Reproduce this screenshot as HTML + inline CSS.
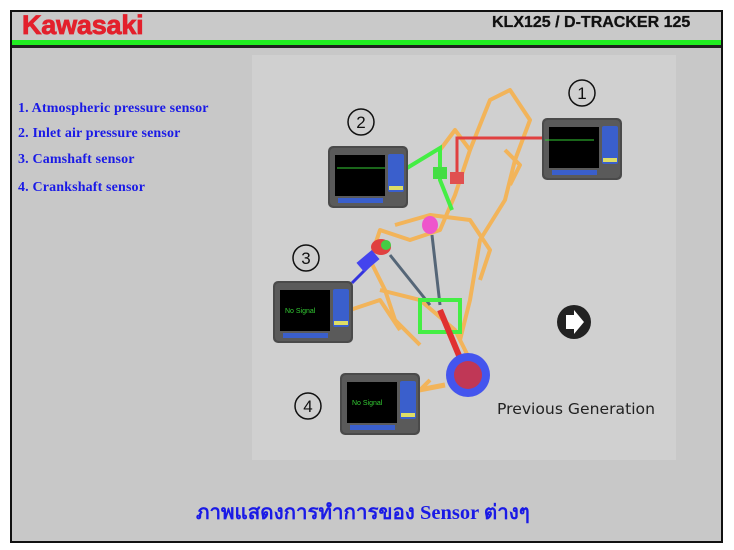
<!DOCTYPE html>
<html><head><meta charset="utf-8"><style>
html,body{margin:0;padding:0;background:#fff;}
body{width:734px;height:550px;position:relative;overflow:hidden;font-family:"Liberation Sans",sans-serif;}
.frame{position:absolute;left:10px;top:10px;width:709px;height:529px;border:2px solid #111;background:#c8c8c8;}
.hdr{position:absolute;left:12px;top:12px;width:709px;height:28px;background:#c9c9c9;}
.green{position:absolute;left:12px;top:40px;width:709px;height:5px;background:#22ee22;}
.dark{position:absolute;left:12px;top:45px;width:709px;height:3px;background:#222;}
.kaw{position:absolute;left:22px;top:10px;font-weight:bold;font-size:27px;color:#e3202c;letter-spacing:-0.2px;-webkit-text-stroke:0.8px #e3202c;}
.model{position:absolute;left:492px;top:14px;font-weight:bold;font-size:16px;color:#111;-webkit-text-stroke:0.3px #111;}
.panel{position:absolute;left:252px;top:55px;width:424px;height:405px;background:#d0d0d0;}
.list{position:absolute;left:18px;font-family:"Liberation Serif",serif;font-weight:bold;font-size:14px;color:#1a1ae6;letter-spacing:0.15px;}
.thai{position:absolute;left:196px;top:496px;font-family:"Liberation Serif","DejaVu Serif",serif;font-weight:bold;font-size:20.5px;color:#1a1ae6;white-space:nowrap;}
</style></head><body>
<div class="frame"></div>
<div class="hdr"></div>
<div class="green"></div>
<div class="dark"></div>
<div class="kaw">Kawasaki</div>
<div class="model">KLX125 / D-TRACKER 125</div>
<div class="panel"></div>
<div class="list" style="top:101px">1. Atmospheric pressure sensor</div>
<div class="list" style="top:126px">2. Inlet air pressure sensor</div>
<div class="list" style="top:152px">3. Camshaft sensor</div>
<div class="list" style="top:180px">4. Crankshaft sensor</div>
<div class="thai">ภาพแสดงการทำการของ Sensor ต่างๆ</div>

<svg style="position:absolute;left:0;top:0" width="734" height="550">
<defs>
<g id="mon">
<rect x="0" y="0" width="80" height="62" rx="5" fill="#4a4a4a"/>
<rect x="2" y="2" width="76" height="58" rx="4" fill="#5a5a5a"/>
<rect x="7" y="9" width="50" height="41" fill="#000"/>
<rect x="60" y="8" width="16" height="38" rx="2" fill="#3a5fcc"/>
<rect x="61" y="40" width="14" height="4" fill="#dddd66"/>
<rect x="10" y="52" width="45" height="5" fill="#3a5fcc"/>
</g>
</defs>
<g stroke="#f2b45a" stroke-width="4" fill="none" stroke-linejoin="round">
<path d="M440 150 L455 130 L470 150 L455 195 L440 230 L410 240 L380 230 L370 260 L385 290 L395 320 L420 345"/>
<path d="M470 150 L490 100 L510 90 L530 120 L515 160 L505 200 L480 240 L470 300 L460 340"/>
<path d="M395 225 L430 215 L470 220 L490 250 L480 280"/>
<path d="M380 290 L420 300 L455 330 L470 360"/>
<path d="M505 150 L520 165 L510 185"/>
<path d="M430 380 L420 390 L405 395"/>
<path d="M350 310 L380 300 L400 330"/>
</g>
<path d="M407 168 L440 148 L440 180 L452 210" stroke="#44ee44" stroke-width="4" fill="none"/>
<rect x="433" y="167" width="14" height="12" fill="#44dd44"/>
<path d="M542 138 L457 138 L457 175" stroke="#e04040" stroke-width="3" fill="none"/>
<rect x="450" y="172" width="14" height="12" fill="#e05050"/>
<ellipse cx="381" cy="247" rx="10" ry="8" fill="#e04040"/>
<circle cx="386" cy="245" r="5" fill="#44cc44"/>
<ellipse cx="430" cy="225" rx="8" ry="9" fill="#ee55cc"/>
<path d="M352 283 L375 260" stroke="#3333dd" stroke-width="3"/>
<rect x="358" y="255" width="20" height="12" transform="rotate(-40 368 261)" fill="#4444ee"/>
<path d="M390 255 L430 305 M432 235 L440 305" stroke="#556677" stroke-width="3"/>
<rect x="420" y="300" width="40" height="32" fill="none" stroke="#44ee44" stroke-width="4"/>
<path d="M440 310 L465 370" stroke="#e03030" stroke-width="6"/>
<circle cx="468" cy="375" r="22" fill="#4455ee"/>
<circle cx="468" cy="375" r="14" fill="#e03030" opacity="0.8"/>
<path d="M419 390 L445 385" stroke="#f2b45a" stroke-width="5"/>
<use href="#mon" x="542" y="118"/>
<use href="#mon" x="328" y="146"/>
<use href="#mon" x="273" y="281"/>
<use href="#mon" x="340" y="373"/>
<line x1="545" y1="140" x2="594" y2="140" stroke="#33cc33" stroke-width="1"/>
<line x1="337" y1="168" x2="385" y2="168" stroke="#33cc33" stroke-width="1"/>
<text x="285" y="313" font-size="7" fill="#33cc33">No Signal</text>
<text x="352" y="405" font-size="7" fill="#33cc33">No Signal</text>
<g fill="none" stroke="#111" stroke-width="1.5">
<circle cx="582" cy="93" r="13"/><circle cx="361" cy="122" r="13"/>
<circle cx="306" cy="258" r="13"/><circle cx="308" cy="406" r="13"/>
</g>
<g font-size="17" fill="#111" text-anchor="middle" font-family="Liberation Sans">
<text x="582" y="99">1</text><text x="361" y="128">2</text>
<text x="306" y="264">3</text><text x="308" y="412">4</text>
</g>
<circle cx="574" cy="322" r="17" fill="#222"/>
<path d="M566 315 L574 315 L574 310 L584 322 L574 334 L574 329 L566 329 Z" fill="#fff"/>
<text x="497" y="414" font-size="15.5" fill="#222" font-family="DejaVu Sans,Liberation Sans" textLength="158" lengthAdjust="spacingAndGlyphs">Previous Generation</text>
</svg>
</body></html>
